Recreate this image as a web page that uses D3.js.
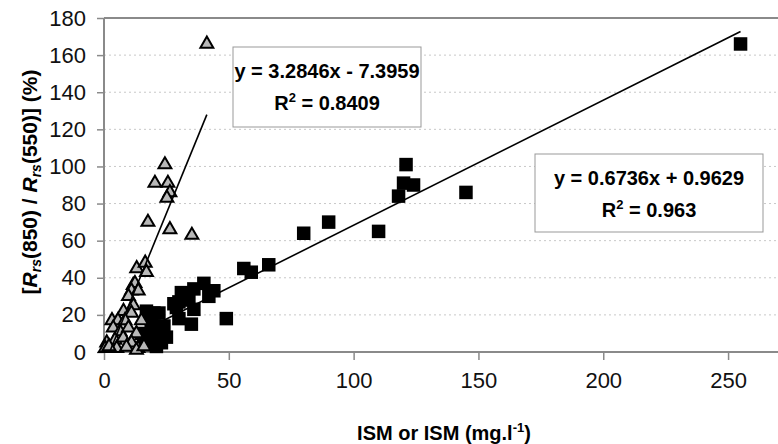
<!DOCTYPE html>
<html>
<head>
<meta charset="utf-8">
<script src="https://cdn.jsdelivr.net/npm/d3@7"></script>
<style>
    body { margin: 0; background: #fff; }
    svg { display: block; font-family: "Liberation Sans", Arial, sans-serif; }
</style>
</head>
<body>
<svg id="chart" width="778" height="444"></svg>
<script>
// Data.
const squareX = [16, 18, 19, 20, 22, 21, 23, 23, 24, 17, 15, 19, 25, 28, 29, 30, 31, 30, 33, 34, 36, 35, 36, 40, 42, 44, 49, 56, 59, 66, 80, 90, 110, 118, 120, 121, 124, 145, 255];
const squareY = [4, 7, 12, 21, 21, 3, 12, 5, 14, 22, 10, 17, 8, 26, 24, 18, 32, 27, 28, 30, 34, 15, 23, 37, 30, 33, 18, 45, 43, 47, 64, 70, 65, 84, 91, 101, 90, 86, 166];
const triangleX = [41.2, 24.4, 20.4, 25.6, 26.4, 25.2, 17.6, 26.4, 35.2, 13.1, 16.5, 17, 11.7, 12.4, 11, 13.7, 9.8, 11.8, 7.8, 11, 3.2, 5.6, 8.4, 15, 3.7, 6.4, 9.8, 13, 1.1, 4.4, 7.7, 11, 0.5, 5.1, 9, 13.6, 13, 2, 16];
const triangleY = [166, 101, 91, 91, 86, 83, 70, 66, 63, 45, 48, 43, 36, 37, 33, 33, 30, 25, 22, 21, 17, 17, 17, 17, 13, 11, 13, 10, 5, 6.5, 7.6, 5, 2, 2, 2.7, 2, 1, 3, 3];
const squareFit = {slope: 0.6736, intercept: 0.9629, r2: '0.963'};
const triangleFit = {slope: 3.2846, intercept: -7.3959, r2: '0.8409'};
const xTicks = [0, 50, 100, 150, 200, 250];
const yTicks = [0, 20, 40, 60, 80, 100, 120, 140, 160, 180];

const svg = d3.select('#chart');
const X0 = 104, X1 = 778, Y0 = 352, Y1 = 18;
const AXIS = '#8a8a8a';

const x = d3.scaleLinear().domain([0, 270]).range([X0, X1]);
const y = d3.scaleLinear().domain([0, 180]).range([Y0, Y1]);

// Grid lines.
svg.append('g')
    .selectAll('line')
    .data(yTicks.filter(d => d > 0 && d < 180))
    .join('line')
    .attr('x1', X0).attr('x2', X1)
    .attr('y1', d => y(d)).attr('y2', d => y(d))
    .attr('stroke', '#c8c8c8')
    .attr('stroke-dasharray', '2,3');

// Top border.
svg.append('line')
    .attr('x1', X0).attr('x2', X1)
    .attr('y1', Y1).attr('y2', Y1)
    .attr('stroke', AXIS).attr('stroke-width', 2);

// Axes.
const xAxis = svg.append('g')
    .attr('transform', `translate(0,${Y0})`)
    .call(d3.axisBottom(x).tickValues(xTicks).tickSize(8).tickPadding(12));
const yAxis = svg.append('g')
    .attr('transform', `translate(${X0},0)`)
    .call(d3.axisLeft(y).tickValues(yTicks).tickSize(7).tickPadding(11));
[xAxis, yAxis].forEach(a => {
    a.select('.domain').attr('stroke', AXIS).attr('stroke-width', 2);
    a.selectAll('.tick line').attr('stroke', AXIS).attr('stroke-width', 1.5);
    a.selectAll('.tick text')
        .attr('fill', '#111')
        .attr('font-size', 22)
        .attr('font-family', '"Liberation Sans Narrow", "Arial Narrow", "Liberation Sans", sans-serif');
});
xAxis.select('.domain').attr('d', `M${X0},0H${X1}`);
yAxis.select('.domain').attr('d', `M0,${Y0}V${Y1}`);

// Markers.
const SQ = 13.5;
svg.append('g')
    .selectAll('rect')
    .data(squareX.map((d, i) => [d, squareY[i]]))
    .join('rect')
    .attr('x', d => x(d[0]) - SQ / 2)
    .attr('y', d => y(d[1]) - SQ / 2)
    .attr('width', SQ).attr('height', SQ)
    .attr('fill', '#000');

const tri = d3.symbol().type(d3.symbolTriangle).size(72);
svg.append('g')
    .selectAll('path')
    .data(triangleX.map((d, i) => [d, triangleY[i]]))
    .join('path')
    .attr('d', tri)
    .attr('transform', d => `translate(${x(d[0])},${y(d[1])})`)
    .attr('fill', '#b8b8b8')
    .attr('stroke', '#000')
    .attr('stroke-width', 2);

// Trend lines, over the data range (clipped at y = 0).
const trend = (fit, xs) => {
    const lo = Math.max(d3.min(xs), -fit.intercept / fit.slope);
    const hi = d3.max(xs);
    svg.append('line')
        .attr('x1', x(lo)).attr('y1', y(fit.slope * lo + fit.intercept))
        .attr('x2', x(hi)).attr('y2', y(fit.slope * hi + fit.intercept))
        .attr('stroke', '#000')
        .attr('stroke-width', 1.6);
};
trend(squareFit, squareX);
trend(triangleFit, triangleX);

// Equation boxes.
const box = (bx, by, bw, bh, eq, r2) => {
    const g = svg.append('g').attr('transform', `translate(${bx},${by})`);
    g.append('rect')
        .attr('width', bw).attr('height', bh)
        .attr('fill', '#fff')
        .attr('stroke', '#999');
    g.append('text')
        .attr('x', bw / 2).attr('y', 31)
        .attr('text-anchor', 'middle')
        .attr('font-size', 20).attr('font-weight', 'bold')
        .text(eq);
    const t = g.append('text')
        .attr('x', bw / 2).attr('y', 63)
        .attr('text-anchor', 'middle')
        .attr('font-size', 20).attr('font-weight', 'bold');
    t.append('tspan').text('R');
    t.append('tspan').attr('font-size', 13).attr('dy', -8).text('2');
    t.append('tspan').attr('dy', 8).text(` = ${r2}`);
};
box(233, 47, 188, 80, 'y = 3.2846x - 7.3959', triangleFit.r2);
box(535, 154, 228, 78, 'y = 0.6736x + 0.9629', squareFit.r2);

// Axis titles.
const xt = svg.append('text')
    .attr('x', 444).attr('y', 440)
    .attr('text-anchor', 'middle')
    .attr('font-size', 20).attr('font-weight', 'bold');
xt.append('tspan').text('ISM or ISM (mg.l');
xt.append('tspan').attr('font-size', 13).attr('dy', -8).text('-1');
xt.append('tspan').attr('dy', 8).text(')');

const yt = svg.append('text')
    .attr('transform', 'translate(37,182) rotate(-90)')
    .attr('text-anchor', 'middle')
    .attr('font-size', 21).attr('font-weight', 'bold');
const rrs = () => {
    yt.append('tspan').attr('font-style', 'italic').text('R');
    yt.append('tspan').attr('font-style', 'italic').attr('font-size', 14).attr('dy', 4).text('rs');
};
yt.append('tspan').text('[');
rrs();
yt.append('tspan').attr('dy', -4).text('(850) / ');
rrs();
yt.append('tspan').attr('dy', -4).text('(550)] (%)');
</script>
</body>
</html>
